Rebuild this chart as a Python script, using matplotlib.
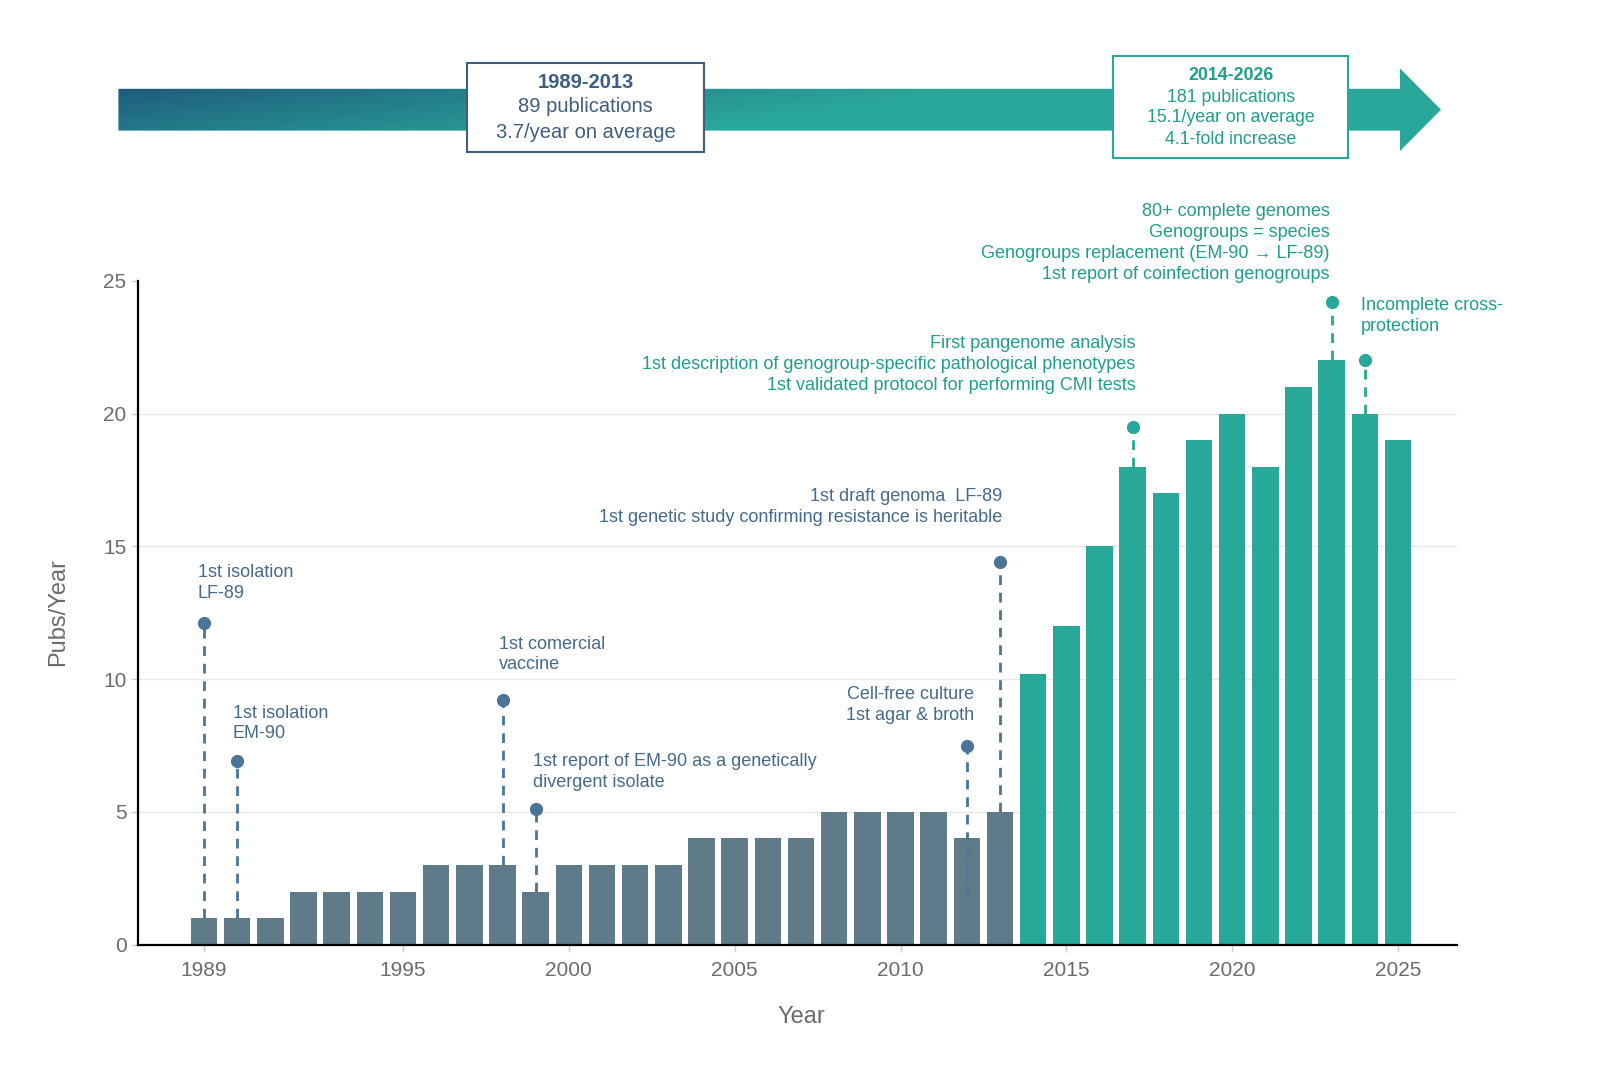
import numpy as np
import matplotlib
matplotlib.use("Agg")
import matplotlib.pyplot as plt
from matplotlib.patches import Polygon, Rectangle
from matplotlib.colors import to_rgb

plt.rcParams['font.family'] = ['Liberation Sans', 'DejaVu Sans']

# ---------------- data ----------------
years = list(range(1989, 2026))
pubs = [1, 1, 1, 2, 2, 2, 2, 3, 3, 3, 2, 3, 3, 3, 3, 4, 4, 4, 4, 5, 5, 5, 5, 4, 5,
        10.2, 12, 15, 18, 17, 19, 20, 18, 21, 22, 20, 19]
split_year = 2014

event_years = [1989, 1990, 1998, 1999, 2012, 2013, 2017, 2023, 2024]
event_tops = [12.1, 6.9, 9.2, 5.1, 7.5, 14.4, 19.5, 24.2, 22.0]
event_bottoms = [1, 1, 3, 2, 1.9, 5, 18, 22, 20]

event_labels = [
    "1st isolation\nLF-89",
    "1st isolation\nEM-90",
    "1st comercial\nvaccine",
    "1st report of EM-90 as a genetically\ndivergent isolate",
    "Cell-free culture\n1st agar & broth",
    "1st draft genoma  LF-89\n1st genetic study confirming resistance is heritable",
    "First pangenome analysis\n1st description of genogroup-specific pathological phenotypes\n1st validated protocol for performing CMI tests",
    "80+ complete genomes\nGenogroups = species\nGenogroups replacement (EM-90 \u2192 LF-89)\n1st report of coinfection genogroups",
    "Incomplete cross-\nprotection",
]

xticks = [1989, 1995, 2000, 2005, 2010, 2015, 2020, 2025]
yticks = [0, 5, 10, 15, 20, 25]

period1_lines = ["1989-2013", "89 publications", "3.7/year on average"]
period2_lines = ["2014-2026", "181 publications", "15.1/year on average", "4.1-fold increase"]

# ---------------- styling ----------------
GRAY_BAR = "#5f7b89"
TEAL_BAR = "#27a898"
BLUE_EVT = "#4a7599"
BLUE_TXT = "#456a8c"
TEAL_TXT = "#1f9e8e"
TICK_TXT = "#6b6b6b"

W, H = 1600, 1086
fig = plt.figure(figsize=(W / 100, H / 100), dpi=100)

# background axes in pixel coords for the banner
bg = fig.add_axes([0, 0, 1, 1])
bg.set_xlim(0, W)
bg.set_ylim(H, 0)
bg.axis("off")

# arrow polygon with gradient
x0, xh, xt = 118.4, 1400, 1441
yb0, yb1, yh0, yh1 = 88.8, 130.6, 68.4, 151
arrow_pts = [(x0, yb0), (xh, yb0), (xh, yh0), (xt, (yh0 + yh1) / 2), (xh, yh1),
             (xh, yb1), (x0, yb1)]
poly = Polygon(arrow_pts, closed=True, facecolor="none", edgecolor="none")
bg.add_patch(poly)
nx, ny = 600, 60
gx = np.linspace(x0, xt, nx)
gy = np.linspace(yh0, yh1, ny)
GX, GY = np.meshgrid(gx, gy)
t = np.clip((GX - x0) / 860 + (GY - yb0) / (yb1 - yb0) * 0.35, 0, 1)
t = t ** 0.9
c_dark = np.array(to_rgb("#1f5a7c"))
c_teal = np.array(to_rgb("#2aa79b"))
img = c_dark[None, None, :] * (1 - t[..., None]) + c_teal[None, None, :] * t[..., None]
im = bg.imshow(img, extent=[x0, xt, yh1, yh0], origin="upper", aspect="auto",
               interpolation="bilinear", zorder=1)
im.set_clip_path(poly)
bg.set_xlim(0, W)
bg.set_ylim(H, 0)

# period boxes
bg.add_patch(Rectangle((467, 63), 704 - 467, 152 - 63, facecolor="white",
                       edgecolor="#3f5e7e", lw=1.5, zorder=3))
bg.add_patch(Rectangle((1113, 56), 1348 - 1113, 158 - 56, facecolor="white",
                       edgecolor="#2aa79b", lw=1.5, zorder=3))
for i, (s, yy) in enumerate(zip(period1_lines, [82.7, 107, 132.7])):
    bg.text(585.7, yy, s, ha="center", va="center", fontsize=14.5, color="#3f5e7e",
            fontweight="bold" if i == 0 else "normal", zorder=4)
for i, (s, yy) in enumerate(zip(period2_lines, [75.5, 97, 117.3, 139.8])):
    bg.text(1230.6, yy, s, ha="center", va="center", fontsize=12.8, color=TEAL_TXT,
            fontweight="bold" if i == 0 else "normal", zorder=4)

# ---------------- main chart ----------------
ax = fig.add_axes([137.7 / W, 1 - 944.7 / H, (1456.7 - 137.7) / W, (944.7 - 280.7) / H])
ax.set_facecolor("none")
colors = [GRAY_BAR if y < split_year else TEAL_BAR for y in years]
ax.bar(years, pubs, width=0.8, color=colors, zorder=2)

ax.set_xlim(1987, 2026.77)
ax.set_ylim(0, 25)
ax.set_xticks(xticks)
ax.set_yticks(yticks)
ax.tick_params(axis="both", colors="#cccccc", labelcolor=TICK_TXT, labelsize=15,
               length=5, width=1)
ax.tick_params(axis="x", pad=7)
ax.tick_params(axis="y", pad=3)
for s in ["top", "right"]:
    ax.spines[s].set_visible(False)
for s in ["left", "bottom"]:
    ax.spines[s].set_color("black")
    ax.spines[s].set_linewidth(1.6)
    ax.spines[s].set_zorder(5)
ax.set_axisbelow(True)
ax.yaxis.grid(True, color="#e8e8e8", lw=1)
ygl = ax.get_ygridlines()
ygl[-1].set_visible(False)

ax.set_ylabel("Pubs/Year", fontsize=17, color=TICK_TXT)
ax.yaxis.set_label_coords(-0.0604, 0.501)
ax.yaxis.label.set_va("center")
ax.set_xlabel("Year", fontsize=17, color=TICK_TXT)
ax.xaxis.set_label_coords(0.503, -0.109)
ax.xaxis.label.set_va("center")

# event markers
for yr, top, bot in zip(event_years, event_tops, event_bottoms):
    c = BLUE_EVT if yr < split_year else TEAL_BAR
    ax.plot([yr, yr], [bot, top], ls=(0, (3.5, 2.8)), color=c, lw=2.0, zorder=3,
            solid_capstyle="butt", dash_capstyle="butt")
    ax.plot([yr], [top], "o", color=c, ms=8.5, zorder=4, clip_on=False)

# annotation layout (x, y, ha) in data coords
label_layout = [
    (1988.81, 13.62, "left"),
    (1989.86, 8.33, "left"),
    (1997.90, 10.92, "left"),
    (1998.91, 6.51, "left"),
    (2012.22, 9.02, "right"),
    (2013.08, 16.49, "right"),
    (2017.08, 21.85, "right"),
    (2022.94, 26.42, "right"),
    (2023.89, 23.68, "left"),
]
for yr, lab, (lx, ly, ha) in zip(event_years, event_labels, label_layout):
    c = BLUE_TXT if yr < split_year else TEAL_TXT
    ls = 1.33 if yr == 2023 else 1.28
    ax.text(lx, ly, lab, ha=ha, va="center", multialignment=ha, fontsize=13,
            color=c, linespacing=ls, zorder=6, clip_on=False)

fig.savefig("out.png", dpi=100, facecolor="white")
